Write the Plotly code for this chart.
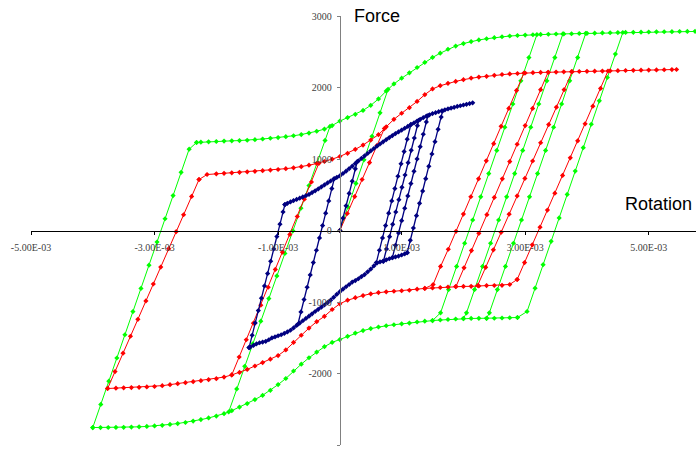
import plotly.graph_objects as go

# Rotation values below are in units of 1e-3 rad; forces in the chart's units.
ROT_UNIT = 1e-3

# ---------------- green series ----------------
green_upper_rot = [-2.32, -2.25, -2.125, -2.0, -1.875, -1.75, -1.625, -1.5, -1.375, -1.25, -1.125, -1.0,
                   -0.875, -0.75, -0.625, -0.5, -0.375, -0.25, -0.125, 0.0, 0.125, 0.25, 0.375, 0.5, 0.625,
                   0.75, 0.875, 1.0, 1.125, 1.25, 1.375, 1.5, 1.625, 1.75, 1.875, 2.0, 2.125, 2.25, 2.375,
                   2.5, 2.625, 2.75, 2.875, 3.0, 3.125, 3.25, 3.375, 3.5, 3.625, 3.75, 3.875, 4.0, 4.125,
                   4.25, 4.375, 4.5, 4.625, 4.75, 4.875, 5.0, 5.125, 5.25, 5.375, 5.5, 5.625, 5.75, 5.875]
green_upper_force = [1231, 1235, 1240, 1245, 1250, 1254, 1258, 1262, 1270, 1280, 1290, 1300,
                     1312, 1325, 1342, 1362, 1388, 1418, 1468, 1530, 1580, 1625, 1680, 1750, 1840,
                     1950, 2050, 2130, 2205, 2280, 2350, 2420, 2480, 2535, 2580, 2615, 2642, 2665, 2682,
                     2697, 2710, 2720, 2727, 2733, 2738, 2742, 2745, 2748, 2750, 2752, 2755, 2757, 2760,
                     2763, 2766, 2768, 2770, 2772, 2774, 2776, 2778, 2780, 2781, 2783, 2784, 2785, 2786]
green_lower_rot = [-4.0, -3.875, -3.75, -3.625, -3.5, -3.375, -3.25, -3.125, -3.0, -2.875, -2.75, -2.625,
                   -2.5, -2.375, -2.25, -2.125, -2.0, -1.875, -1.75, -1.625, -1.5, -1.375, -1.25, -1.125,
                   -1.0, -0.875, -0.75, -0.625, -0.5, -0.375, -0.25, -0.125, 0.0, 0.125, 0.25, 0.375, 0.5,
                   0.625, 0.75, 0.875, 1.0, 1.125, 1.25, 1.375, 1.5, 1.625, 1.75, 1.875, 2.0, 2.125, 2.25,
                   2.375, 2.5, 2.625, 2.75, 2.875]
green_lower_force = [-2756, -2756, -2755, -2754, -2753, -2750, -2746, -2740, -2733, -2725, -2712, -2700,
                     -2685, -2665, -2645, -2622, -2595, -2562, -2520, -2470, -2420, -2365, -2305, -2235,
                     -2155, -2070, -1965, -1870, -1780, -1700, -1625, -1565, -1525, -1480, -1435, -1400, -1372,
                     -1350, -1332, -1318, -1305, -1295, -1280, -1268, -1260, -1252, -1245, -1238, -1232, -1230, -1229,
                     -1228, -1227, -1224, -1220, -1217]
green_origin_rot = [0.0, 0.13, 0.26, 0.39, 0.52, 0.65, 0.78]
green_origin_force = [0, 329, 658, 988, 1317, 1646, 1975]
green_left_rot = [-4.00, -3.87, -3.74, -3.61, -3.48, -3.35, -3.22, -3.09, -2.96, -2.83, -2.70, -2.57, -2.44, -2.32]
green_left_force = [-2756, -2432, -2107, -1783, -1458, -1134, -810, -485, -161, 164, 488, 813, 1137, 1231]
green_mid_rot = [-1.80, -1.67, -1.54, -1.41, -1.28, -1.15, -1.02, -0.89, -0.76, -0.63, -0.50, -0.37, -0.24, -0.16]
green_mid_force = [-2537, -2216, -1900, -1584, -1268, -952, -636, -320, -4, 312, 628, 944, 1260, 1455]
green_down1_rot = [3.19, 3.06, 2.93, 2.80, 2.67, 2.54, 2.41, 2.28, 2.15, 2.02, 1.89, 1.76, 1.63, 1.5]
green_down1_force = [2740, 2418, 2093, 1769, 1444, 1120, 796, 471, 147, -178, -502, -826, -1151, -1260]
green_down2_rot = [3.61, 3.48, 3.35, 3.22, 3.09, 2.96, 2.83, 2.70, 2.57, 2.44, 2.31, 2.18, 2.05, 2.0]
green_down2_force = [2750, 2418, 2093, 1769, 1444, 1120, 796, 471, 147, -178, -502, -826, -1151, -1232]
green_down3_rot = [3.98, 3.85, 3.72, 3.59, 3.46, 3.33, 3.20, 3.07, 2.94, 2.81, 2.68, 2.55, 2.42, 2.375]
green_down3_force = [2757, 2418, 2093, 1769, 1444, 1120, 796, 471, 147, -178, -502, -826, -1151, -1228]
green_up4_rot = [2.875, 3.03, 3.16, 3.29, 3.42, 3.55, 3.68, 3.81, 3.94, 4.07, 4.20, 4.33, 4.46, 4.58]
green_up4_force = [-1217, -1133, -806, -478, -151, 176, 504, 831, 1158, 1486, 1813, 2140, 2467, 2769]

# ---------------- red series ----------------
red_upper_rot = [-2.28, -2.15, -2.0, -1.875, -1.75, -1.625, -1.5, -1.375, -1.25, -1.125, -1.0, -0.875,
                 -0.75, -0.625, -0.5, -0.375, -0.25, -0.125, 0.0, 0.125, 0.25, 0.375, 0.5, 0.625, 0.75,
                 0.875, 1.0, 1.125, 1.25, 1.375, 1.5, 1.625, 1.75, 1.875, 2.0, 2.125, 2.25, 2.375, 2.5,
                 2.625, 2.75, 2.875, 3.0, 3.125, 3.25, 3.375, 3.5, 3.625, 3.75, 3.875, 4.0, 4.125, 4.25,
                 4.375, 4.5, 4.625, 4.75, 4.875, 5.0, 5.125, 5.25, 5.375, 5.45]
red_upper_force = [713, 783, 792, 799, 806, 813, 820, 828, 837, 845, 853, 865,
                   877, 893, 913, 937, 965, 998, 1035, 1080, 1135, 1195, 1265, 1340, 1450,
                   1555, 1640, 1718, 1805, 1900, 1980, 2025, 2058, 2085, 2110, 2132, 2146, 2156, 2170,
                   2182, 2190, 2196, 2203, 2208, 2211, 2213, 2216, 2219, 2222, 2224, 2226, 2228, 2230,
                   2233, 2236, 2238, 2240, 2242, 2244, 2246, 2248, 2250, 2252]
red_lower_rot = [-3.76, -3.625, -3.5, -3.375, -3.25, -3.125, -3.0, -2.875, -2.75, -2.625, -2.5, -2.375,
                 -2.25, -2.125, -2.0, -1.875, -1.75, -1.625, -1.5, -1.375, -1.25, -1.125, -1.0, -0.875,
                 -0.75, -0.625, -0.5, -0.375, -0.25, -0.125, 0.0, 0.125, 0.25, 0.375, 0.5, 0.625, 0.75,
                 0.875, 1.0, 1.125, 1.25, 1.375, 1.5, 1.625, 1.75, 1.875, 2.0, 2.125, 2.25, 2.375, 2.5,
                 2.625, 2.75, 2.87]
red_lower_force = [-2210, -2205, -2200, -2197, -2194, -2188, -2182, -2170, -2156, -2142, -2128, -2115,
                   -2100, -2086, -2072, -2050, -2020, -1985, -1943, -1895, -1847, -1800, -1749, -1670,
                   -1565, -1465, -1365, -1275, -1200, -1105, -1025, -975, -940, -910, -885, -868, -857,
                   -850, -843, -836, -820, -810, -803, -797, -790, -784, -782, -781, -776, -770, -769,
                   -767, -755, -685]
red_origin_rot = [0.0, 0.12, 0.24, 0.36, 0.48, 0.60, 0.72]
red_origin_force = [0, 238, 475, 713, 950, 1188, 1426]
red_left_rot = [-3.76, -3.64, -3.51, -3.39, -3.27, -3.14, -3.02, -2.90, -2.77, -2.65, -2.53, -2.40, -2.28]
red_left_force = [-2210, -1973, -1716, -1479, -1242, -985, -748, -511, -254, -17, 220, 477, 713]
red_mid_rot = [-1.75, -1.63, -1.515, -1.40, -1.28, -1.16, -1.045, -0.93, -0.81, -0.69, -0.575, -0.46, -0.34]
red_mid_force = [-2020, -1769, -1528, -1296, -1045, -794, -545, -303, -55, 196, 437, 678, 940]
red_down1_rot = [2.98, 2.86, 2.735, 2.61, 2.49, 2.37, 2.245, 2.12, 2.00, 1.88, 1.755, 1.63, 1.51, 1.375]
red_down1_force = [2202, 1959, 1708, 1457, 1215, 974, 723, 472, 230, -11, -262, -503, -755, -810]
red_down2_rot = [3.37, 3.25, 3.12, 3.00, 2.87, 2.75, 2.63, 2.50, 2.38, 2.25, 2.13, 2.01, 1.88]
red_down2_force = [2212, 1969, 1708, 1467, 1206, 964, 723, 462, 221, -40, -281, -522, -783]
red_down3_rot = [3.76, 3.63, 3.505, 3.38, 3.25, 3.12, 2.995, 2.87, 2.74, 2.61, 2.485, 2.36, 2.23]
red_down3_force = [2222, 1970, 1725, 1481, 1227, 972, 728, 483, 229, -26, -270, -515, -769]
red_up4_rot = [2.87, 2.99, 3.115, 3.24, 3.36, 3.48, 3.605, 3.73, 3.85, 3.97, 4.095, 4.22, 4.34]
red_up4_force = [-685, -448, -200, 47, 285, 522, 770, 1017, 1254, 1492, 1739, 1987, 2231]

# ---------------- blue series ----------------
blue_upper_rot = [-0.89, -0.85, -0.8, -0.75, -0.7, -0.65, -0.6, -0.55, -0.5, -0.45, -0.4, -0.35, -0.3,
                  -0.25, -0.2, -0.15, -0.1, -0.05, 0.0, 0.05, 0.1, 0.15, 0.2, 0.25, 0.3, 0.35, 0.4, 0.45,
                  0.5, 0.55, 0.6, 0.65, 0.7, 0.75, 0.8, 0.85, 0.9, 0.95, 1.0, 1.05, 1.1, 1.15, 1.2, 1.25,
                  1.3, 1.35, 1.4, 1.45, 1.5, 1.55, 1.6, 1.65, 1.7, 1.75, 1.8, 1.85, 1.9, 1.95, 2.0, 2.05,
                  2.1, 2.15]
blue_upper_force = [363, 380, 400, 418, 435, 452, 470, 487, 505, 530, 555, 582, 610,
                    637, 665, 692, 720, 742, 765, 797, 830, 865, 900, 937, 975, 1010, 1045, 1080,
                    1115, 1147, 1180, 1210, 1240, 1270, 1300, 1327, 1355, 1380, 1405, 1430, 1455, 1480, 1505, 1530,
                    1555, 1578, 1600, 1618, 1635, 1648, 1662, 1675, 1688, 1700, 1712, 1723, 1735, 1745, 1755, 1765,
                    1775, 1785]
blue_lower_rot = [-1.47, -1.45, -1.4, -1.35, -1.3, -1.25, -1.2, -1.15, -1.1, -1.05, -1.0, -0.95, -0.9,
                  -0.85, -0.8, -0.75, -0.7, -0.65, -0.6, -0.55, -0.5, -0.45, -0.4, -0.35, -0.3, -0.25, -0.2,
                  -0.15, -0.1, -0.05, 0.0, 0.05, 0.1, 0.15, 0.2, 0.25, 0.3, 0.35, 0.4, 0.45, 0.5, 0.55, 0.6,
                  0.65, 0.7, 0.75, 0.8, 0.85, 0.9, 0.95, 1.0, 1.05, 1.09]
blue_lower_force = [-1637, -1630, -1608, -1585, -1570, -1560, -1550, -1528, -1503, -1488, -1472, -1458, -1440,
                    -1418, -1395, -1362, -1328, -1295, -1262, -1230, -1198, -1165, -1133, -1103, -1073, -1042, -1010,
                    -975, -935, -893, -855, -820, -787, -755, -722, -700, -675, -645, -616, -578, -540, -495, -455,
                    -440, -428, -410, -395, -380, -370, -358, -343, -326, -310]
blue_origin_rot = [0.0, 0.05, 0.10, 0.15, 0.20, 0.25, 0.28]
blue_origin_force = [0, 173, 345, 518, 690, 863, 962]
blue_left_rot = [-1.47, -1.42, -1.37, -1.32, -1.27, -1.22, -1.17, -1.12, -1.07, -1.02, -0.97, -0.92, -0.89]
blue_left_force = [-1637, -1465, -1292, -1120, -947, -775, -602, -430, -257, -85, 88, 260, 363]
blue_mid_rot = [-0.68, -0.63, -0.58, -0.53, -0.48, -0.43, -0.38, -0.33, -0.28, -0.23, -0.18, -0.13, -0.09]
blue_mid_force = [-1311, -1139, -966, -794, -621, -449, -276, -104, 69, 242, 414, 587, 725]
blue_r1_rot = [0.59, 0.64, 0.69, 0.74, 0.79, 0.84, 0.89, 0.94, 0.99, 1.04, 1.09, 1.15]
blue_r1_force = [-449, -276, -104, 69, 242, 414, 587, 759, 932, 1104, 1277, 1484]
blue_r2_rot = [0.705, 0.755, 0.805, 0.855, 0.905, 0.955, 1.005, 1.055, 1.105, 1.155, 1.205, 1.255, 1.277]
blue_r2_force = [-431, -259, -86, 86, 259, 431, 604, 776, 949, 1121, 1294, 1466, 1542]
blue_r3_rot = [0.85, 0.90, 0.95, 1.00, 1.05, 1.10, 1.15, 1.20, 1.25, 1.30, 1.35, 1.40, 1.426]
blue_r3_force = [-380, -207, -35, 138, 311, 483, 656, 828, 1001, 1173, 1346, 1518, 1608]
blue_r4_rot = [1.09, 1.14, 1.19, 1.24, 1.29, 1.34, 1.39, 1.44, 1.49, 1.54, 1.59, 1.64, 1.662]
blue_r4_force = [-311, -138, 35, 207, 380, 552, 725, 897, 1070, 1242, 1415, 1587, 1670]

# ---------------- axes ----------------
x_tick_vals = [-5e-3, -3e-3, -1e-3, 1e-3, 3e-3, 5e-3]
x_tick_text = ["-5.00E-03", "-3.00E-03", "-1.00E-03", "1.00E-03", "3.00E-03", "5.00E-03"]
y_tick_vals = [-3000, -2000, -1000, 0, 1000, 2000, 3000]
x_range = [-5e-3, 5.765e-3]
y_range = [-3000, 3000]


def build(segments):
    xs, ys = [], []
    for sx, sy in segments:
        if len(sx) != len(sy):
            raise ValueError("length mismatch %d vs %d" % (len(sx), len(sy)))
        if xs:
            xs.append(None)
            ys.append(None)
        xs += [v * ROT_UNIT for v in sx]
        ys += list(sy)
    return xs, ys


series = [
    ("green", "#00ff00", 1, 4, [
        (green_upper_rot, green_upper_force), (green_lower_rot, green_lower_force),
        (green_origin_rot, green_origin_force), (green_left_rot, green_left_force),
        (green_mid_rot, green_mid_force), (green_down1_rot, green_down1_force),
        (green_down2_rot, green_down2_force), (green_down3_rot, green_down3_force),
        (green_up4_rot, green_up4_force)]),
    ("red", "#ff0000", 1, 4, [
        (red_upper_rot, red_upper_force), (red_lower_rot, red_lower_force),
        (red_origin_rot, red_origin_force), (red_left_rot, red_left_force),
        (red_mid_rot, red_mid_force), (red_down1_rot, red_down1_force),
        (red_down2_rot, red_down2_force), (red_down3_rot, red_down3_force),
        (red_up4_rot, red_up4_force)]),
    ("blue", "#000080", 1.3, 4, [
        (blue_upper_rot, blue_upper_force), (blue_lower_rot, blue_lower_force),
        (blue_origin_rot, blue_origin_force), (blue_left_rot, blue_left_force),
        (blue_mid_rot, blue_mid_force), (blue_r1_rot, blue_r1_force),
        (blue_r2_rot, blue_r2_force), (blue_r3_rot, blue_r3_force),
        (blue_r4_rot, blue_r4_force)]),
]

fig = go.Figure()
for name, color, lw, ms, segs in series:
    xs, ys = build(segs)
    fig.add_trace(go.Scatter(
        x=xs, y=ys, name=name, mode="lines+markers", connectgaps=False,
        line=dict(color=color, width=lw),
        marker=dict(symbol="diamond", size=ms, color=color, line=dict(width=0)),
        hoverinfo="skip"))

yaxis_pos = (0 - x_range[0]) / (x_range[1] - x_range[0])

fig.update_layout(
    width=696, height=449,
    margin=dict(l=31, r=0, t=16, b=4, autoexpand=False),
    plot_bgcolor="white", paper_bgcolor="white",
    showlegend=False,
    xaxis=dict(range=x_range, showgrid=False, zeroline=False, showline=True, automargin=False,
               linecolor="black", linewidth=1, ticks="outside", ticklen=3, tickcolor="black",
               tickvals=x_tick_vals, ticktext=x_tick_text, ticklabelstandoff=4,
               tickfont=dict(family="Liberation Serif", size=10, color="#404040"),
               anchor="free", position=0.5),
    yaxis=dict(range=y_range, showgrid=False, zeroline=False, showline=True, automargin=False,
               linecolor="#808080", linewidth=1, ticks="outside", ticklen=3, tickcolor="#808080",
               tickvals=y_tick_vals, ticktext=[str(v) for v in y_tick_vals], ticklabelstandoff=3,
               tickfont=dict(family="Liberation Serif", size=10, color="#404040"),
               anchor="free", position=yaxis_pos),
    annotations=[
        dict(text="Force", x=0.607e-3, y=3000, xref="x", yref="y", showarrow=False,
             xanchor="center", yanchor="middle",
             font=dict(family="Liberation Sans", size=18, color="black")),
        dict(text="Rotation", x=5.74e-3, y=371, xref="x", yref="y", showarrow=False,
             xanchor="right", yanchor="middle",
             font=dict(family="Liberation Sans", size=18, color="black")),
    ],
)

# remove the browser's default page margin so the 696x449 figure fills the window exactly
fig.write_html("out.html", config={"displayModeBar": False},
               post_script="document.body.style.margin='0px';")
